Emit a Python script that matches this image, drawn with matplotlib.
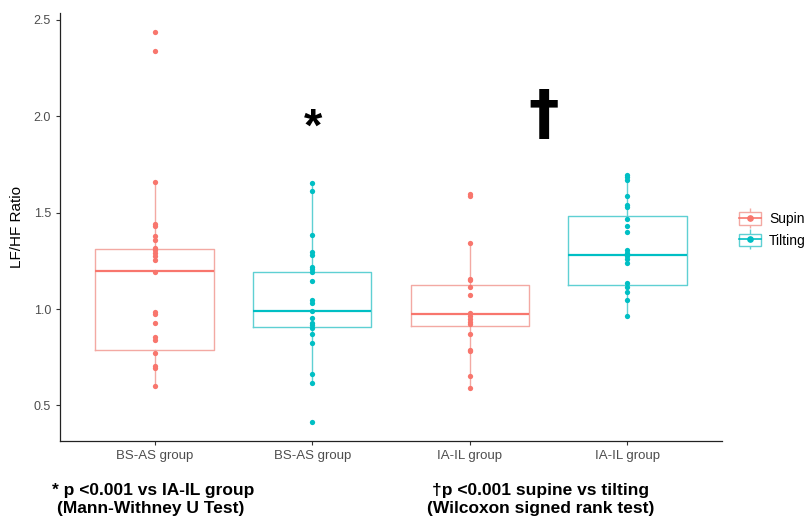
import matplotlib.pyplot as plt
from matplotlib.lines import Line2D
from matplotlib.patches import Patch
from matplotlib.legend_handler import HandlerTuple
import numpy as np

plt.rcParams['font.family'] = ['Liberation Sans', 'DejaVu Sans']

# categories
tick_labels = ['BS-AS group', 'BS-AS group', 'IA-IL group', 'IA-IL group']
conditions = ['Supine', 'Tilting', 'Supine', 'Tilting']

# individual LF/HF values
bsas_supine = [2.433, 2.336, 1.657, 1.441, 1.430, 1.377, 1.357, 1.317, 1.305, 1.291, 1.277,
               1.256, 1.191, 0.987, 0.973, 0.929, 0.854, 0.838, 0.773, 0.707, 0.693, 0.602]
bsas_tilting = [1.652, 1.614, 1.381, 1.294, 1.282, 1.217, 1.205, 1.191, 1.144, 1.046, 1.032,
                0.989, 0.951, 0.929, 0.915, 0.903, 0.873, 0.826, 0.661, 0.616, 0.417]
iail_supine = [1.598, 1.585, 1.343, 1.157, 1.150, 1.115, 1.075, 0.977, 0.963, 0.949, 0.932,
               0.920, 0.870, 0.790, 0.780, 0.652, 0.592]
iail_tilting = [1.697, 1.685, 1.671, 1.588, 1.541, 1.527, 1.464, 1.429, 1.400, 1.305, 1.291,
                1.274, 1.260, 1.236, 1.136, 1.115, 1.089, 1.046, 0.966]
points = [bsas_supine, bsas_tilting, iail_supine, iail_tilting]

# box summaries as drawn
medians = [1.195, 0.989, 0.973, 1.279]
q1 = [0.790, 0.906, 0.911, 1.125]
q3 = [1.312, 1.193, 1.123, 1.481]
whisker_lo = [0.602, 0.616, 0.592, 0.966]
whisker_hi = [1.657, 1.652, 1.343, 1.697]

colors = {'Supine': '#F8766D', 'Tilting': '#00BFC4'}
light = {'Supine': '#F3A9A3', 'Tilting': '#5FD0D3'}

fig = plt.figure(figsize=(8.05, 5.16), dpi=100)
ax = fig.add_axes([60 / 805, 1 - 441 / 516, 662 / 805, 428 / 516])

pos = np.arange(1, len(tick_labels) + 1)
stats = [dict(med=m, q1=a, q3=b, whislo=lo, whishi=hi)
         for m, a, b, lo, hi in zip(medians, q1, q3, whisker_lo, whisker_hi)]
art = ax.bxp(stats, positions=pos, widths=0.75, showfliers=False, showcaps=False)
for i, cond in enumerate(conditions):
    art['boxes'][i].set(color=light[cond], linewidth=1.0)
    art['medians'][i].set(color=colors[cond], linewidth=1.6)
    for w in art['whiskers'][2 * i:2 * i + 2]:
        w.set(color=light[cond], linewidth=1.0)
    vals = points[i]
    ax.plot(np.full(len(vals), pos[i]), vals, 'o', color=colors[cond],
            markersize=3.8, markeredgewidth=0, zorder=3)

ax.set_xlim(0.4, 4.6)
ax.set_ylim(0.316, 2.534)
ax.set_xticks(pos)
ax.set_xticklabels(tick_labels)
ax.set_yticks([0.5, 1.0, 1.5, 2.0, 2.5])
ax.set_yticklabels(['0.5', '1.0', '1.5', '2.0', '2.5'])
ax.tick_params(labelsize=9, labelcolor='#4d4d4d', color='#333333', length=3, width=0.8)
ax.tick_params(axis='x', labelsize=9.5)
ax.set_ylabel('LF/HF Ratio', fontsize=11, labelpad=7)
for s in ['top', 'right']:
    ax.spines[s].set_visible(False)
for s in ['left', 'bottom']:
    ax.spines[s].set_linewidth(0.9)
    ax.spines[s].set_color('#222222')

# significance marks
ax.text(2.005, 1.935, '*', ha='center', va='center', fontsize=34, fontweight='bold',
        color='black')
ax.text(3.47, 2.0, '\u2020', ha='center', va='center', fontsize=44, fontweight='bold',
        color='black', family='DejaVu Sans')

# legend
handles = []
for cond in ['Supine', 'Tilting']:
    handles.append((Line2D([], [], color=light[cond], marker='|', markersize=15, linestyle='none'),
                    Patch(facecolor='white', edgecolor=light[cond], linewidth=1.0),
                    Line2D([], [], color=colors[cond], marker='o', markersize=3.8, linewidth=1.2)))
fig.legend(handles, ['Supine', 'Tilting'], handler_map={tuple: HandlerTuple(ndivide=1)},
           loc='center left', bbox_to_anchor=(726 / 805, 1 - 230 / 516), frameon=False,
           fontsize=10, handlelength=1.6, handleheight=1.0, labelspacing=0.55, handletextpad=0.6)

# footnotes
note_font = dict(family=['Liberation Sans Narrow', 'Liberation Sans'], fontsize=12.5,
                 fontweight='bold', ha='center', va='center')
fig.text(153 / 805, 1 - 491 / 516, '* p <0.001 vs IA-IL group', **note_font)
fig.text(151 / 805, 1 - 509 / 516, '(Mann-Withney U Test)', **note_font)
fig.text(541 / 805, 1 - 491 / 516, '\u2020p <0.001 supine vs tilting', **note_font)
fig.text(541 / 805, 1 - 509 / 516, '(Wilcoxon signed rank test)', **note_font)

fig.savefig('out.png', dpi=100)
